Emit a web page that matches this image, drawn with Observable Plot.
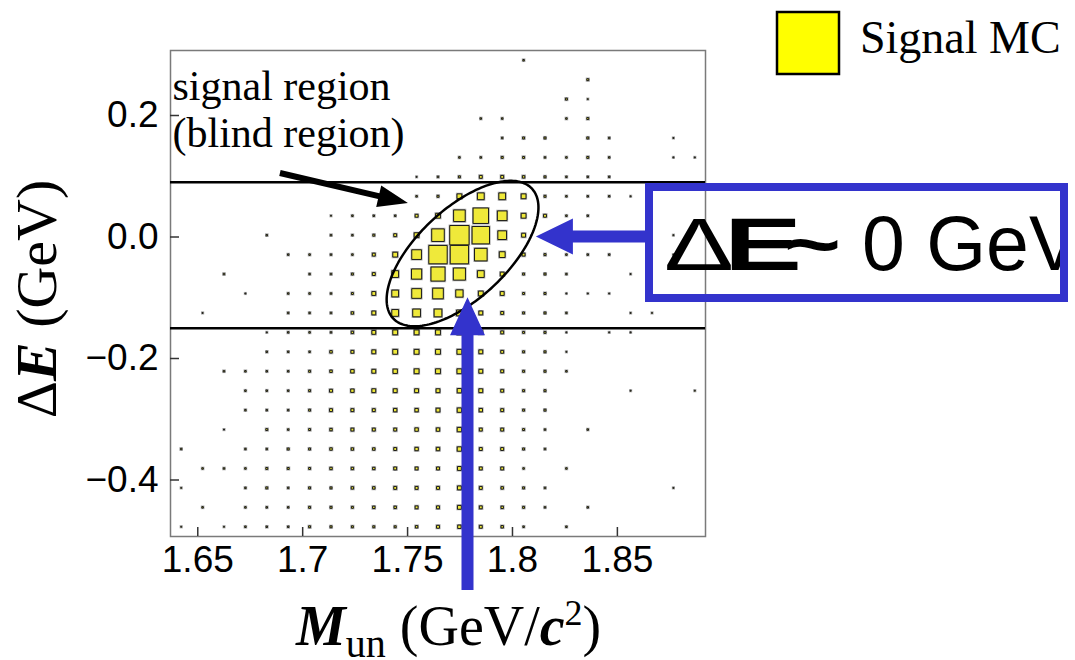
<!DOCTYPE html>
<html>
<head>
<meta charset="utf-8">
<script src="https://cdn.jsdelivr.net/npm/d3@7"></script>
<script src="https://cdn.jsdelivr.net/npm/@observablehq/plot@0.6"></script>
<style>
  html, body { margin: 0; padding: 0; background: #fff; }
  #chart { width: 1075px; height: 660px; }
</style>
</head>
<body>
<div id="chart"></div>
<script>
// Bin centres of the 2D histogram: M_un (GeV/c^2) and ΔE (GeV)
const mBins = [1.6421, 1.6523, 1.6625, 1.6727, 1.6829, 1.6931, 1.7033, 1.7135, 1.7237,
  1.7339, 1.7441, 1.7543, 1.7645, 1.7747, 1.7849, 1.7951, 1.8053, 1.8155, 1.8257,
  1.8359, 1.8461, 1.8563, 1.8665, 1.8767, 1.8869];
const dEBins = [0.291, 0.259, 0.227, 0.195, 0.163, 0.131, 0.099, 0.067, 0.035, 0.003,
  -0.029, -0.061, -0.093, -0.125, -0.157, -0.189, -0.221, -0.253, -0.285, -0.317,
  -0.349, -0.381, -0.413, -0.445, -0.477];

// Signal MC entries per bin, one row per ΔE bin (top row = highest ΔE)
const signalEntries = [
  [0,0,0,0,0, 0,0,0,0,0, 0,0,0,0,0, 0,3,0,0,0, 0,0,0,0,0],
  [0,0,0,0,0, 0,0,0,0,0, 0,0,0,0,0, 0,0,0,0,4, 0,0,0,0,0],
  [0,0,0,0,0, 0,0,0,0,0, 0,0,0,0,0, 0,0,0,4,2, 0,0,0,0,0],
  [0,0,0,0,0, 0,0,0,0,0, 0,0,0,0,3, 3,0,0,3,4, 0,0,0,0,0],
  [0,0,0,0,0, 0,0,0,0,0, 0,0,0,0,0, 3,4,4,0,4, 3,0,0,2,0],
  [0,0,0,0,0, 0,0,0,0,0, 0,0,0,3,3, 4,4,3,3,4, 3,0,0,2,2],
  [0,0,0,0,0, 0,0,0,0,0, 0,2,3,4,6, 6,5,4,3,3, 3,0,0,0,0],
  [0,0,0,0,0, 0,0,0,0,0, 0,3,4,10,14, 14,10,4,3,3, 3,2,0,0,0],
  [0,0,0,0,0, 0,0,2,3,3, 3,6,10,24,32, 20,10,6,3,3, 0,0,0,0,0],
  [0,0,0,0,3, 0,0,3,3,4, 6,10,26,40,36, 18,8,4,3,3, 0,0,0,2,0],
  [0,0,0,0,0, 3,3,3,3,6, 10,20,38,38,26, 12,6,4,3,3, 3,0,0,2,0],
  [0,0,3,0,0, 0,3,3,4,6, 14,21,29,25,14, 8,4,4,3,0, 0,2,0,0,0],
  [0,0,0,2,0, 3,3,3,4,8, 14,20,22,15,10, 8,4,4,2,2, 2,0,0,0,0],
  [0,2,0,0,0, 3,3,3,5,8, 14,16,16,12,8, 6,4,4,3,0, 0,2,2,0,0],
  [0,0,0,0,2, 3,3,3,5,8, 10,10,10,10,8, 6,4,4,2,0, 2,2,0,0,0],
  [0,0,0,0,3, 3,3,5,6,8, 10,10,10,10,8, 6,4,4,2,0, 0,0,0,0,0],
  [0,0,3,3,3, 3,4,5,7,8, 9,10,10,10,8, 6,4,4,3,0, 0,0,0,0,0],
  [0,0,0,3,3, 3,4,6,7,8, 8,8,8,9,8, 6,4,4,0,0, 0,2,0,0,2],
  [0,0,0,3,3, 3,4,6,6,6, 7,7,8,9,7, 6,4,4,0,0, 0,0,0,0,0],
  [0,0,2,0,4, 3,4,5,6,6, 6,7,7,9,6, 6,4,3,0,3, 0,0,0,0,0],
  [3,0,0,3,3, 4,4,5,5,5, 6,7,7,9,6, 6,4,3,0,0, 0,0,0,0,0],
  [0,3,3,3,4, 4,4,5,5,5, 6,6,6,8,6, 6,3,0,3,0, 0,0,0,0,0],
  [2,0,0,3,4, 3,4,4,5,5, 6,6,6,8,6, 5,4,3,0,0, 0,0,0,2,0],
  [0,3,0,3,3, 3,4,4,4,5, 5,6,6,8,6, 5,4,3,0,3, 0,0,0,0,0],
  [2,0,2,3,3, 3,4,4,4,4, 4,5,6,7,6, 5,3,0,3,0, 0,0,0,0,0]
];

// Axis ticks and the ΔE cuts bounding the signal band
const mTicks = [1.65, 1.7, 1.75, 1.8, 1.85];
const dETicks = [0.2, 0.0, -0.2, -0.4];
const dECuts = [0.09, -0.15];

// Signal-region ellipse: centre and semi-axis vectors in data units
const ellipseCentre = [1.7762, -0.0272];
const ellipseMajor = [0.0331, 0.1067];
const ellipseMinor = [-0.0146, 0.0542];

const cells = [];
signalEntries.forEach((row, j) => row.forEach((n, i) => {
  if (n > 0) cells.push({m: mBins[i], dE: dEBins[j], n});
}));

const ellipse = d3.range(0, 360, 2).map(deg => {
  const t = deg * Math.PI / 180;
  return {
    m: ellipseCentre[0] + Math.cos(t) * ellipseMajor[0] + Math.sin(t) * ellipseMinor[0],
    dE: ellipseCentre[1] + Math.cos(t) * ellipseMajor[1] + Math.sin(t) * ellipseMinor[1]
  };
});

const W = 1075, H = 660;
const mL = 170, mR = 370, mT = 50, mB = 124;
const frameW = W - mL - mR, frameH = H - mT - mB;
const blue = "#3333cc";
const serif = "'Liberation Serif', 'Times New Roman', serif";
const sans = "'Liberation Sans', Arial, sans-serif";

// Solid block arrow between two points given in data units
function blockArrow({from, to, shaft, headWidth, headLength, fill}) {
  return (index, scales) => {
    const x1 = scales.x(from[0]), y1 = scales.y(from[1]);
    const x2 = scales.x(to[0]), y2 = scales.y(to[1]);
    const L = Math.hypot(x2 - x1, y2 - y1);
    const ux = (x2 - x1) / L, uy = (y2 - y1) / L, nx = -uy, ny = ux;
    const bx = x2 - ux * headLength, by = y2 - uy * headLength;
    const p = (x, y, s) => [x + nx * s, y + ny * s];
    const pts = [
      p(x1, y1, shaft / 2), p(bx, by, shaft / 2), p(bx, by, headWidth / 2), [x2, y2],
      p(bx, by, -headWidth / 2), p(bx, by, -shaft / 2), p(x1, y1, -shaft / 2)
    ];
    return d3.create("svg:path")
      .attr("d", "M" + pts.map(q => q.join(",")).join("L") + "Z")
      .attr("fill", fill)
      .node();
  };
}

// Axis titles with mixed styles
function axisTitles() {
  const g = d3.create("svg:g").attr("font-family", serif).attr("fill", "black");
  const tx = g.append("text").attr("x", 296).attr("y", 645).attr("font-size", 56)
    .attr("text-anchor", "start");
  tx.append("tspan").attr("font-weight", "bold").attr("font-style", "italic").text("M");
  tx.append("tspan").attr("font-size", 40).attr("dy", 12).text("un");
  tx.append("tspan").attr("dy", -12).text(" (GeV/");
  tx.append("tspan").attr("font-weight", "bold").attr("font-style", "italic").text("c");
  tx.append("tspan").attr("font-size", 36).attr("dy", -20).text("2");
  tx.append("tspan").attr("dy", 20).text(")");

  const ty = g.append("text")
    .attr("transform", "translate(56,299) rotate(-90)")
    .attr("text-anchor", "middle").attr("font-size", 58);
  ty.append("tspan").text("Δ");
  ty.append("tspan").attr("font-weight", "bold").attr("font-style", "italic").text("E");
  ty.append("tspan").text(" (GeV)");
  return g.node();
}

// Legend entry and the ΔE callout box
function annotations() {
  const g = d3.create("svg:g").attr("text-anchor", "start");
  g.append("rect").attr("x", 777).attr("y", 12).attr("width", 62).attr("height", 62)
    .attr("fill", "#ffff00").attr("stroke", "black").attr("stroke-width", 2.5);
  g.append("text").attr("x", 860).attr("y", 53).attr("font-family", serif)
    .attr("font-size", 46).attr("fill", "black").text("Signal MC");

  const clipId = "callout-clip";
  g.append("clipPath").attr("id", clipId)
    .append("rect").attr("x", 653).attr("y", 191).attr("width", 407).attr("height", 104);
  const t = g.append("g").attr("clip-path", `url(#${clipId})`)
    .attr("font-family", sans).attr("fill", "black");
  t.append("text").attr("x", 664).attr("y", 270).attr("font-size", 74)
    .attr("textLength", 70).attr("lengthAdjust", "spacingAndGlyphs").text("Δ");
  t.append("text").attr("x", 724).attr("y", 270).attr("font-size", 74).attr("font-weight", "bold")
    .attr("textLength", 78).attr("lengthAdjust", "spacingAndGlyphs").text("E");
  t.append("text").attr("x", 784).attr("y", 270).attr("font-size", 76).attr("font-weight", "bold")
    .attr("textLength", 57).attr("lengthAdjust", "spacingAndGlyphs").text("~");
  t.append("text").attr("x", 862).attr("y", 270).attr("font-size", 77).text("0 GeV");

  g.append("rect").attr("x", 649).attr("y", 187).attr("width", 415).attr("height", 111)
    .attr("fill", "none").attr("stroke", blue).attr("stroke-width", 8);
  return g.node();
}

const chart = Plot.plot({
  width: W,
  height: H,
  marginLeft: mL,
  marginRight: mR,
  marginTop: mT,
  marginBottom: mB,
  style: {fontFamily: sans, background: "white", overflow: "visible"},
  x: {domain: [1.637, 1.892]},
  y: {domain: [-0.493, 0.307]},
  r: {type: "linear", domain: [0, 40], range: [0, 10.9]},
  marks: [
    // box histogram: grey halo then yellow boxes with dark borders
    Plot.dot(cells, {x: "m", y: "dE", r: "n", symbol: "square", fill: "none",
      stroke: "#a8a8a8", strokeWidth: 2.2}),
    Plot.dot(cells, {x: "m", y: "dE", r: "n", symbol: "square", fill: "#efe93a",
      stroke: "#1a1a1a", strokeWidth: 1}),
    Plot.frame({stroke: "#7a7a7a", strokeWidth: 1.5}),
    Plot.ruleX(mTicks, {insetTop: frameH - 9, stroke: "#333", strokeWidth: 1.5}),
    Plot.ruleY(dETicks, {insetRight: frameW - 9, stroke: "#333", strokeWidth: 1.5}),
    Plot.axisX(mTicks, {tickSize: 0, tickPadding: 9, fontSize: 37, fill: "black",
      label: null, tickFormat: d => String(d)}),
    Plot.axisY(dETicks, {tickSize: 0, tickPadding: 12, fontSize: 37, fill: "black",
      label: null, tickFormat: d3.format(".1f")}),
    Plot.ruleY(dECuts, {stroke: "black", strokeWidth: 2.5}),
    Plot.line(ellipse, {x: "m", y: "dE", curve: "linear-closed", stroke: "black", strokeWidth: 2.5}),
    Plot.text(["signal region\n(blind region)"], {frameAnchor: "top-left", text: d => d,
      dx: 2, dy: 15, lineAnchor: "top", textAnchor: "start", fontSize: 42,
      lineHeight: 1.14, fontFamily: serif, fill: "black"}),
    blockArrow({from: [1.6894, 0.1045], to: [1.7504, 0.0551], shaft: 6,
      headWidth: 22, headLength: 30, fill: "black"}),
    blockArrow({from: [1.7788, -0.582], to: [1.7788, -0.100], shaft: 12,
      headWidth: 35, headLength: 38, fill: blue}),
    blockArrow({from: [1.8634, 0.0], to: [1.8114, 0.0], shaft: 12,
      headWidth: 36, headLength: 37, fill: blue}),
    axisTitles,
    annotations
  ]
});

document.getElementById("chart").appendChild(chart);
</script>
</body>
</html>
